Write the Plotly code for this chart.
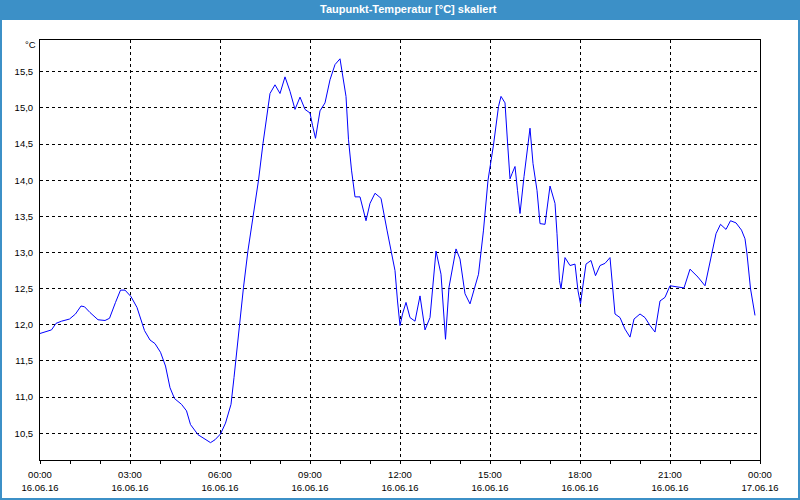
import plotly.graph_objects as go

# --- data ---
times = ["00:00","00:23","00:32","00:43","00:59","01:11","01:22","01:29","01:40","01:56",
         "02:10","02:19","02:31","02:41","02:50","03:02","03:14","03:29","03:40","03:50",
         "04:01","04:11","04:20","04:29","04:43","04:53","05:01","05:16","05:32","05:41",
         "05:50","06:01","06:11","06:22","06:28","06:35","06:47","06:56","07:07","07:17",
         "07:26","07:37","07:40","07:50","08:00","08:10","08:20","08:30","08:40","08:50",
         "09:00","09:05","09:11","09:20","09:30","09:40","09:50","10:00","10:07","10:12",
         "10:17","10:23","10:30","10:40","10:52","11:00","11:10","11:22","11:34","11:43",
         "11:50","11:55","12:00","12:05","12:12","12:20","12:30","12:40","12:50","13:00",
         "13:12","13:22","13:26","13:31","13:38","13:52","14:00","14:10","14:20","14:37",
         "14:47","14:56","15:07","15:17","15:22","15:30","15:35","15:40","15:44","15:50",
         "15:55","16:00","16:08","16:20","16:26","16:34","16:40","16:50","17:00","17:10",
         "17:14","17:19","17:22","17:30","17:40","17:50","17:56","18:01","18:05","18:12",
         "18:22","18:31","18:40","18:50","19:00","19:10","19:20","19:30","19:40","19:48",
         "20:00","20:10","20:20","20:30","20:40","20:50","21:00","21:10","21:28","21:40",
         "21:56","22:10","22:23","22:32","22:41","22:52","23:01","23:12","23:23","23:30",
         "23:34","23:41","23:50"]
dewpoint = [11.88,11.93,12.02,12.05,12.08,12.15,12.26,12.25,12.17,12.07,
            12.06,12.09,12.31,12.48,12.48,12.39,12.24,11.92,11.79,11.74,
            11.62,11.43,11.13,10.98,10.90,10.81,10.62,10.48,10.41,10.37,
            10.41,10.49,10.64,10.90,11.27,11.75,12.52,13.03,13.54,14.00,
            14.51,15.07,15.20,15.32,15.20,15.43,15.23,14.98,15.15,14.98,
            14.93,14.76,14.58,14.96,15.07,15.39,15.60,15.68,15.39,15.16,
            14.56,14.14,13.77,13.77,13.44,13.68,13.82,13.75,13.31,12.98,
            12.75,12.33,11.99,12.15,12.31,12.10,12.05,12.40,11.93,12.10,
            13.02,12.70,12.24,11.80,12.52,13.05,12.91,12.43,12.29,12.70,
            13.31,14.00,14.49,15.02,15.16,15.07,14.53,14.02,14.09,14.19,
            13.86,13.54,14.05,14.72,14.23,13.86,13.40,13.39,13.92,13.68,
            13.26,12.61,12.50,12.93,12.82,12.84,12.47,12.29,12.50,12.84,
            12.89,12.68,12.82,12.85,12.93,12.15,12.10,11.94,11.83,12.08,
            12.15,12.10,11.99,11.90,12.33,12.38,12.54,12.53,12.51,12.77,
            12.66,12.54,12.98,13.26,13.39,13.32,13.44,13.41,13.31,13.19,
            12.98,12.50,12.13]

x_tick_vals = ["2016-06-16 00:00","2016-06-16 03:00","2016-06-16 06:00","2016-06-16 09:00",
               "2016-06-16 12:00","2016-06-16 15:00","2016-06-16 18:00","2016-06-16 21:00",
               "2016-06-17 00:00"]
x_tick_times = ["00:00","03:00","06:00","09:00","12:00","15:00","18:00","21:00","00:00"]
x_tick_dates = ["16.06.16"]*8 + ["17.06.16"]
y_tick_vals = [10.5, 11.0, 11.5, 12.0, 12.5, 13.0, 13.5, 14.0, 14.5, 15.0, 15.5]
y_tick_text = ["10,5","11,0","11,5","12,0","12,5","13,0","13,5","14,0","14,5","15,0","15,5"]

title_text = "Taupunkt-Temperatur [°C] skaliert"
unit_text = "°C"

x = ["2016-06-16 " + t for t in times]

FONT = "Liberation Sans"
BLUE = "#3c90c7"
W, H = 800, 500
L, R, T, B = 40, 40, 40, 40
pw, ph = W - L - R, H - T - B

def px_x(p):
    return (p - L) / pw

def px_y(p):
    return (H - B - p) / ph

fig = go.Figure()
fig.add_trace(go.Scatter(x=x, y=dewpoint, mode="lines",
                         line=dict(color="#0000ff", width=1), showlegend=False,
                         hoverinfo="skip"))
# invisible trace for the second (date) axis
fig.add_trace(go.Scatter(x=[x[0]], y=[dewpoint[0]], xaxis="x2", mode="lines",
                         line=dict(width=0), showlegend=False, hoverinfo="skip"))

fig.update_layout(
    width=W, height=H,
    margin=dict(l=L, r=R, t=T, b=B, autoexpand=False),
    paper_bgcolor="white", plot_bgcolor="white",
    font=dict(family=FONT, size=9.5, color="#000000"),
    xaxis=dict(type="date", range=[x_tick_vals[0], x_tick_vals[-1]],
               tickvals=x_tick_vals, ticktext=x_tick_times, automargin=False,
               showgrid=True, gridcolor="black", gridwidth=1, griddash="3px,3px",
               showline=True, linecolor="black", linewidth=1, mirror=True,
               ticks="outside", ticklen=3, tickcolor="black", tickwidth=1,
               minor=dict(dtick=3600000, ticks="outside", ticklen=3,
                          tickcolor="black", showgrid=False),
               tickangle=0, ticklabelstandoff=3, zeroline=False),
    xaxis2=dict(type="date", matches="x", overlaying="x", anchor="y", side="bottom",
                tickvals=x_tick_vals, ticktext=x_tick_dates, showgrid=False,
                automargin=False,
                ticks="", showline=False, tickangle=0, ticklabelstandoff=20,
                zeroline=False),
    yaxis=dict(range=[10.13, 15.94], tickvals=y_tick_vals, ticktext=y_tick_text,
               automargin=False,
               showgrid=True, gridcolor="black", gridwidth=1, griddash="3px,3px",
               showline=True, linecolor="black", linewidth=1, mirror=True,
               ticks="", zeroline=False, ticklabelstandoff=4),
    shapes=[
        dict(type="rect", xref="paper", yref="paper",
             x0=px_x(0), x1=px_x(W), y0=px_y(20), y1=px_y(0),
             fillcolor=BLUE, line=dict(width=0), layer="below"),
        dict(type="rect", xref="paper", yref="paper",
             x0=px_x(1), x1=px_x(W - 1), y0=px_y(H - 1), y1=px_y(1),
             fillcolor="rgba(0,0,0,0)", line=dict(color=BLUE, width=2), layer="above"),
    ],
    annotations=[
        dict(text="<b>" + title_text + "</b>", xref="paper", yref="paper",
             x=px_x(409), y=px_y(9),
             xanchor="center", yanchor="middle", showarrow=False,
             font=dict(family=FONT, size=11, color="white")),
        dict(text=unit_text, xref="paper", yref="paper", x=px_x(38), y=px_y(45),
             xanchor="right", yanchor="middle", showarrow=False,
             font=dict(family=FONT, size=9.5, color="black")),
    ],
)

fig.write_html("out.html")
